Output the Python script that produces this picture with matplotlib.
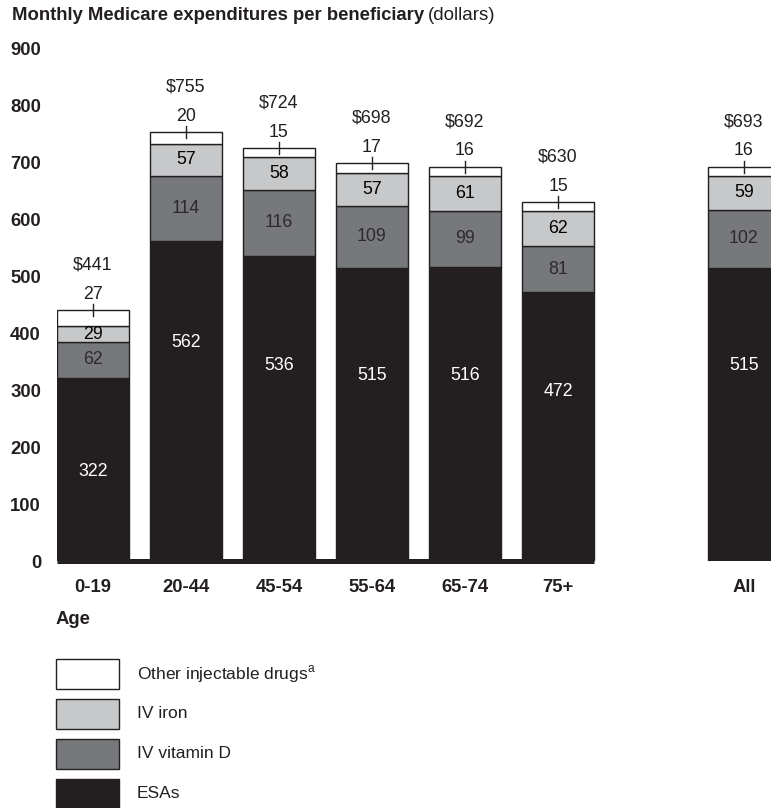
import matplotlib
matplotlib.use("Agg")
import matplotlib.pyplot as plt
from matplotlib.patches import Rectangle

plt.rcParams['font.family'] = ['Liberation Sans', 'DejaVu Sans']
plt.rcParams['mathtext.fontset'] = 'custom'
plt.rcParams['mathtext.rm'] = 'Liberation Sans'

# -------------------------
# DATA
# -------------------------
groups = ["0-19", "20-44", "45-54", "55-64", "65-74", "75+", "All"]
esas = [322, 562, 536, 515, 516, 472, 515]
vit_d = [62, 114, 116, 109, 99, 81, 102]
iv_iron = [29, 57, 58, 57, 61, 62, 59]
other = [27, 20, 15, 17, 16, 15, 16]
totals = [441, 755, 724, 698, 692, 630, 693]

series_names = ["Other injectable drugs$^{\\mathrm{a}}$", "IV iron", "IV vitamin D", "ESAs"]

# -------------------------
# STYLE / LAYOUT
# -------------------------
ink = "#231f20"
c_esa = "#231f20"
c_vitd = "#77787b"
c_iron = "#c7c8ca"
c_other = "white"

W, H = 771, 808
positions = [0, 1, 2, 3, 4, 5, 7]   # gap before "All"
bar_w = 72 / 93
# where the ESA labels sit inside their segment (fraction of height)
esa_label_frac = [0.49, 0.684, 0.642, 0.631, 0.63, 0.629, 0.668]
px = 0.72  # points per pixel at 100 dpi
y_scale = 0.5695  # pixels per dollar

fig = plt.figure(figsize=(W / 100, H / 100), dpi=100)
ax_left = 57 / W
ax_bottom = 1 - 561 / H
ax_height = (561 - 48.4) / H
ax = fig.add_axes([ax_left, ax_bottom, 1 - ax_left, ax_height])

x_left = -bar_w / 2
ax.set_xlim(x_left, x_left + (W - 57) / 93)
ax.set_ylim(0, 900)

for s in ax.spines.values():
    s.set_visible(False)

# -------------------------
# BARS
# -------------------------
edge = dict(edgecolor=ink, linewidth=1.0, width=bar_w)
bottom1 = esas
bottom2 = [a + b for a, b in zip(esas, vit_d)]
bottom3 = [a + b for a, b in zip(bottom2, iv_iron)]
ax.bar(positions, esas, color=c_esa, **edge)
ax.bar(positions, vit_d, bottom=bottom1, color=c_vitd, **edge)
ax.bar(positions, iv_iron, bottom=bottom2, color=c_iron, **edge)
ax.bar(positions, other, bottom=bottom3, color=c_other, **edge)

# thick baseline under the age groups
ax.plot([x_left, positions[5] + bar_w / 2], [0, 0], color=ink, lw=3.6,
        solid_capstyle="butt", clip_on=False, zorder=5)

# -------------------------
# VALUE LABELS
# -------------------------
fs = 12.8
for i, x in enumerate(positions):
    ax.text(x, esas[i] * esa_label_frac[i], str(esas[i]), ha="center", va="center",
            color="white", fontsize=fs)
    ax.text(x, bottom1[i] + vit_d[i] / 2, str(vit_d[i]), ha="center", va="center",
            color="#2b2b2b", fontsize=fs)
    ax.text(x, bottom2[i] + iv_iron[i] / 2, str(iv_iron[i]), ha="center", va="center",
            color="black", fontsize=fs)
    top = bottom3[i] + other[i]
    ax.plot([x, x], [top - 6 / y_scale, top + 6 / y_scale], color=ink, lw=1.0, zorder=4)
    ax.annotate(str(other[i]), xy=(x, top), xytext=(0, 16 * px), textcoords="offset points",
                ha="center", va="center", color=ink, fontsize=fs)
    ax.annotate("\\$" + str(totals[i]), xy=(x, top), xytext=(0, 45 * px),
                textcoords="offset points", ha="center", va="center", color=ink, fontsize=fs)

# -------------------------
# AXES TEXT
# -------------------------
ax.set_yticks(range(0, 901, 100))
ax.set_yticklabels([str(v) for v in range(0, 901, 100)], fontweight="bold",
                   fontsize=13.3, color=ink)
ax.tick_params(axis="y", length=0, pad=16 * px)
ax.set_xticks(positions)
ax.set_xticklabels(groups, fontweight="bold", fontsize=13.3, color=ink)
ax.tick_params(axis="x", length=0, pad=(588 - 561 - 9) * px)

fig.text(56 / W, 1 - 620 / H, "Age", fontweight="bold", fontsize=13.3, color=ink,
         ha="left", va="center")

t1 = fig.text(12 / W, 1 - 16 / H, "Monthly Medicare expenditures per beneficiary",
              fontweight="bold", fontsize=13.3, color=ink, ha="left", va="center")
fig.canvas.draw()
bb = t1.get_window_extent(fig.canvas.get_renderer())
fig.text((bb.x1 + 4) / W, 1 - 16 / H, "(dollars)", fontsize=13.5, color=ink,
         ha="left", va="center")

# -------------------------
# LEGEND
# -------------------------
legend_colors = [c_other, c_iron, c_vitd, c_esa]
for k, (name, col) in enumerate(zip(series_names, legend_colors)):
    y_top = 659 + 40 * k
    fig.add_artist(Rectangle((56 / W, 1 - (y_top + 30) / H), 63 / W, 30 / H,
                             transform=fig.transFigure, facecolor=col,
                             edgecolor=ink, linewidth=1.0))
    fig.text(137 / W, 1 - (y_top + 15) / H, name, fontsize=12.5, color=ink,
             ha="left", va="center")

fig.savefig("out.png", dpi=100)
